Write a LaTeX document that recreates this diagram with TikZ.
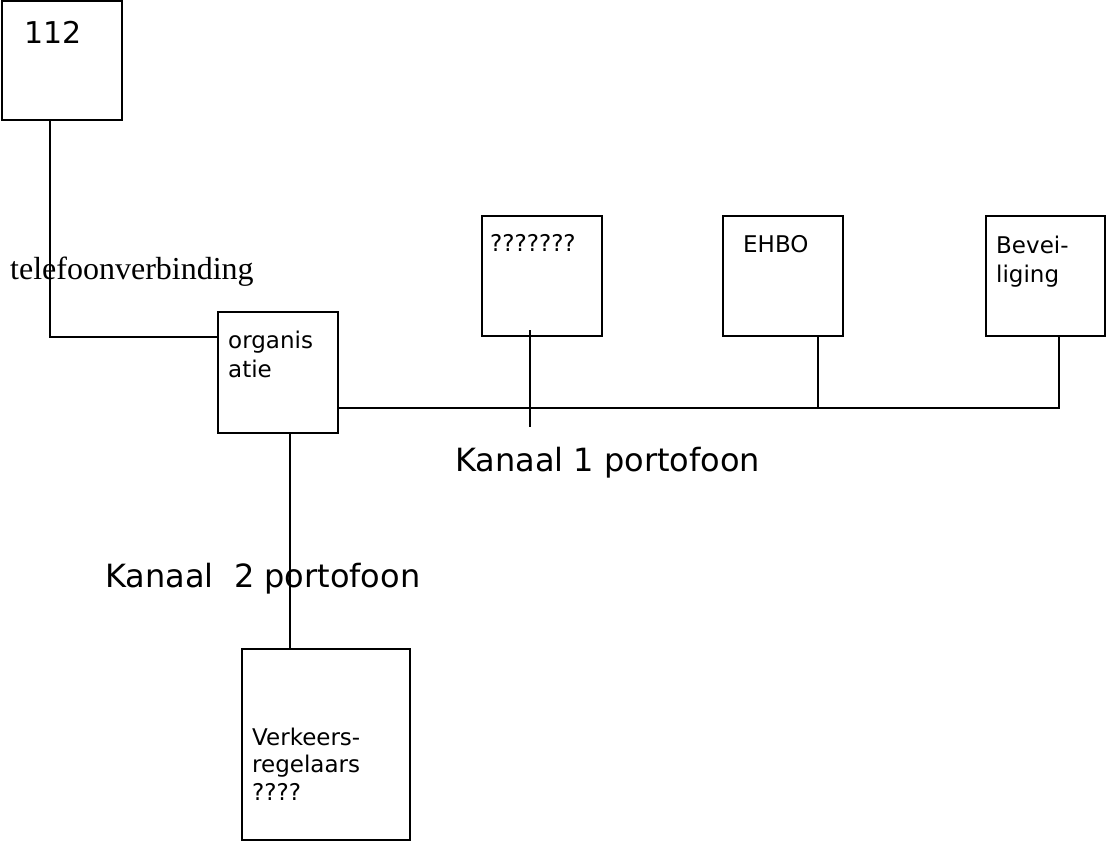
\documentclass[tikz,border=0pt]{standalone}
\usepackage{fontspec}
\setmainfont{DejaVu Sans}
\newfontfamily\serifface{Liberation Serif}
\begin{document}
\begin{tikzpicture}[x=1pt,y=-1pt,
  box/.style={draw=black,line width=2pt,minimum width=#1,inner sep=0pt,outer sep=0pt,anchor=north west},
  conn/.style={draw=black,line width=2pt},
  lbl/.style={anchor=base west,inner sep=0pt,font=\fontsize{23}{29}\selectfont,align=left},
  big/.style={anchor=base west,inner sep=0pt,font=\fontsize{32}{38}\selectfont}]
\useasboundingbox (0,0) rectangle (1106,841);
% boxes
\node[box=120pt,minimum height=119pt] (b112) at (2,1) {};
\node[box=120pt,minimum height=120pt] (q) at (482,216) {};
\node[box=120pt,minimum height=120pt] (ehbo) at (723,216) {};
\node[box=119pt,minimum height=120pt] (bev) at (986,216) {};
\node[box=120pt,minimum height=121pt] (org) at (218,312) {};
\node[box=168pt,minimum height=191pt] (verk) at (242,649) {};
% labels
\node[anchor=base west,inner sep=0pt,font=\fontsize{30}{36}\selectfont] (t112) at (24,43) {112};
\node[lbl] (tq) at (490,251) {???????};
\node[lbl] (tehbo) at (743,252) {EHBO};
\node[lbl] (tbev) at (996,282) {Bevei-\\liging};
\node[lbl] (torg) at (228,377) {organis\\atie};
\node[lbl,font=\fontsize{23}{27.5}\selectfont] (tverk) at (252,800) {Verkeers-\\regelaars\\????};
\node[anchor=base west,inner sep=0pt,font=\serifface\fontsize{32}{38}\selectfont] (ttel) at (10,279) {telefoonverbinding};
\node[big] (tk1) at (455,471) {Kanaal 1 portofoon};
\node[big] (tk2) at (105,587) {Kanaal\ \ 2 portofoon};
% connectors
\coordinate (bus) at (338,408);
\draw[conn] ([xshift=48pt]b112.south west) |- ([yshift=-25pt]org.north west);
\draw[conn] (bus) -| ([xshift=13.5pt]bev.south);
\draw[conn] ([xshift=35pt]ehbo.south) -- ([xshift=35pt]ehbo.south |- bus);
\draw[conn] ([xshift=-12pt,yshift=6pt]q.south) -- ([xshift=-12pt]q.south |- 0,427);
\draw[conn] ([xshift=12pt]org.south) -- ([xshift=12pt]org.south |- verk.north);
\end{tikzpicture}
\end{document}
